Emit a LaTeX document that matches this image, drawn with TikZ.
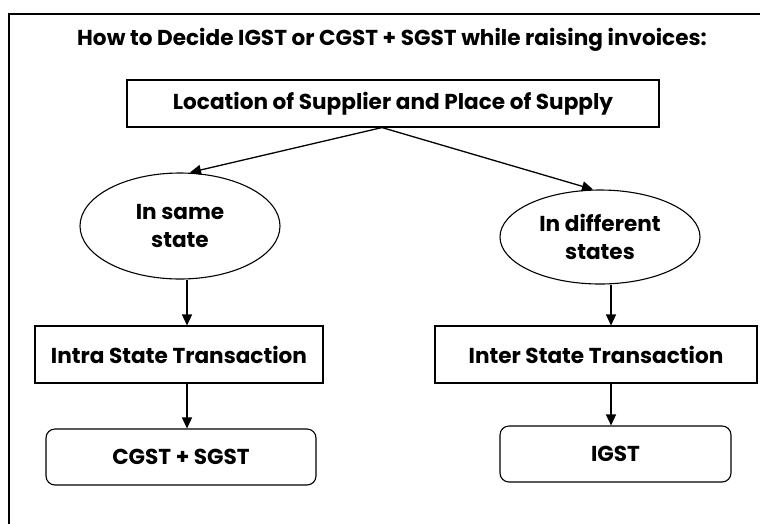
\documentclass[tikz,border=0pt]{standalone}
\usepackage{fontspec}
\setmainfont{Poppins}
\usetikzlibrary{shapes.geometric,arrows.meta,calc}
\begin{document}
\begin{tikzpicture}[x=1pt,y=-1pt,
  lbl/.style={font=\fontsize{21.6}{28}\selectfont\bfseries, align=center},
  box/.style={lbl, draw, line width=1.1pt, inner sep=0pt},
  rbox/.style={box, rounded corners=9pt},
  oval/.style={lbl, draw, line width=1.1pt, ellipse, inner sep=0pt},
  arr/.style={line width=1.3pt, -{Triangle[length=11pt,width=10pt]}}
]
\useasboundingbox (0,0) rectangle (760,523);
\begin{scope}
  \clip (0,0) rectangle (760,523);
  \draw[line width=1.3pt] (9,14) rectangle (780,545);
\end{scope}

\node[lbl] (title) at (392,40) {How to Decide IGST or CGST + SGST while raising invoices:};

\node[box, minimum width=532pt, minimum height=47pt] (loc) at (393,103.5) {Location of Supplier and Place of Supply};

\node[oval, minimum width=200pt, minimum height=106pt] (same) at (180,226) {In same\\state};
\node[oval, minimum width=200pt, minimum height=94pt] (diff) at (600,237) {In different\\states};

\node[box, minimum width=288pt, minimum height=57pt] (intra) at (179,354.5) {Intra State Transaction};
\node[box, minimum width=322pt, minimum height=57pt] (inter) at (596,354.5) {Inter State Transaction};

\node[rbox, minimum width=270pt, minimum height=56pt] (cs) at (181,457) {CGST + SGST};
\node[rbox, minimum width=231pt, minimum height=56pt] (ig) at (615.5,454) {IGST};

\coordinate (fork) at ($(loc.south)+(-11,0)$);
\draw[arr] (fork) -- ($(same.north)+(10,0)$);
\draw[arr] (fork) -- ($(diff.north)+(-7,0)$);

\draw[arr] ($(same.south)+(7,0)$) -- ($(intra.north)+(8,0)$);
\draw[arr] ($(intra.south)+(8,0)$) -- ($(cs.north)+(6,0)$);
\draw[arr] ($(diff.south)+(11,0)$) -- ($(inter.north)+(15,0)$);
\draw[arr] ($(inter.south)+(15,0)$) -- ($(ig.north)+(-4.5,0)$);
\end{tikzpicture}
\end{document}
